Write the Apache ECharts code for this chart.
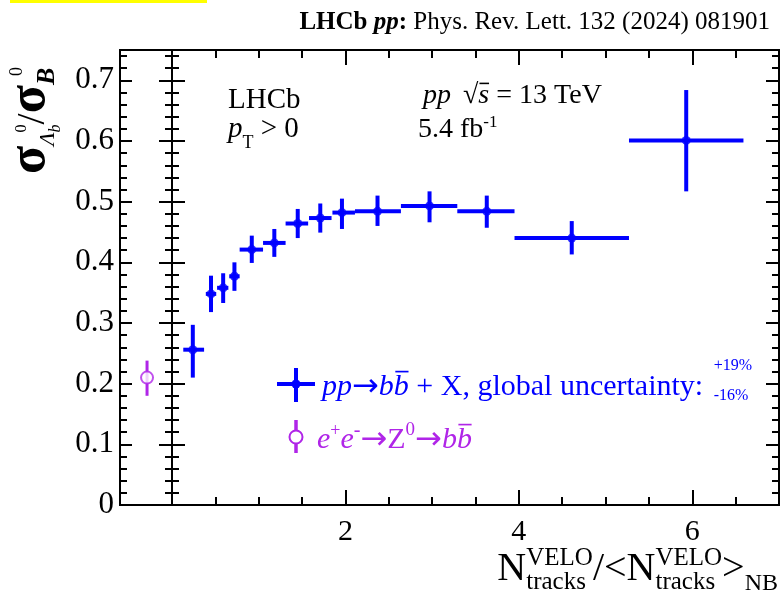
<!DOCTYPE html>
<html>
<head>
<meta charset="utf-8">
<script src="https://cdn.jsdelivr.net/npm/echarts@6/dist/echarts.min.js"></script>
<style>
  html, body { margin: 0; padding: 0; background: #fff; }
  #chart { width: 783px; height: 595px; }
</style>
</head>
<body>
<div id="chart"></div>
<script>
// multiplicity bins, N_tracks / <N_tracks>_NB
const binCentre = [0.24, 0.45, 0.59, 0.72, 0.92, 1.18, 1.45, 1.71, 1.96, 2.37, 2.97, 3.63, 4.61, 5.93];
const binLow    = [0.13, 0.39, 0.52, 0.66, 0.78, 1.05, 1.31, 1.58, 1.85, 2.11, 2.64, 3.29, 3.95, 5.27];
const binHigh   = [0.37, 0.51, 0.65, 0.78, 1.05, 1.31, 1.57, 1.84, 2.11, 2.64, 3.29, 3.95, 5.27, 6.59];

// sigma(Lb0)/sigma(B0) in pp collisions, with total uncertainty
const ppRatio     = [0.256, 0.348, 0.358, 0.377, 0.421, 0.432, 0.464, 0.473, 0.482, 0.484, 0.493, 0.484, 0.440, 0.601];
const ppRatioLow  = [0.210, 0.318, 0.333, 0.353, 0.399, 0.409, 0.440, 0.449, 0.455, 0.460, 0.466, 0.457, 0.413, 0.517];
const ppRatioHigh = [0.297, 0.378, 0.382, 0.400, 0.444, 0.455, 0.488, 0.497, 0.505, 0.510, 0.517, 0.510, 0.468, 0.684];

// e+e- -> Z0 -> bb reference point (side panel)
const eeX = [0.52];
const eeRatio = [0.21];
const eeRatioLow = [0.18];
const eeRatioHigh = [0.238];

const BLACK = '#000';
const BLUE = '#0000ff';
const PURPLE = '#b025e8';
const SERIF = "'Liberation Serif', 'Times New Roman', serif";
const ARROW = { t: '→', family: "'DejaVu Sans', sans-serif", size: 32, dy: 1 };

// --- small text layout helper (super/subscripts, overlines) ---
const mctx = document.createElement('canvas').getContext('2d');
function fontOf(p) {
  return (p.italic ? 'italic ' : '') + (p.bold ? 'bold ' : '') + p.size + 'px ' + (p.family || SERIF);
}
function widthOf(p) {
  mctx.font = fontOf(p);
  return mctx.measureText(p.t).width;
}
function midShift(p) {
  mctx.font = fontOf(p);
  mctx.textBaseline = 'alphabetic';
  const a = mctx.measureText('H').actualBoundingBoxAscent;
  mctx.textBaseline = 'middle';
  const b = mctx.measureText('H').actualBoundingBoxAscent;
  mctx.textBaseline = 'alphabetic';
  return a - b;
}
function runOfText(pieces, base) {
  const children = [];
  let x = 0;
  function put(piece, x0) {
    const p = Object.assign({ color: BLACK }, base, piece);
    const w = widthOf(p);
    const dy = p.dy || 0;
    const xs = x0 + (p.dx || 0);
    children.push({
      type: 'text', x: xs, y: dy - midShift(p), silent: true,
      style: {
        text: p.t, font: fontOf(p), fill: p.color,
        align: 'left', verticalAlign: 'middle', textAlign: 'left', textVerticalAlign: 'middle'
      }
    });
    if (p.over) {
      const yy = dy - p.over * p.size;
      children.push({
        type: 'line', silent: true,
        shape: { x1: xs + w * 0.1, y1: yy, x2: xs + w * 0.98, y2: yy },
        style: { stroke: p.color, lineWidth: Math.max(1.3, p.size / 18) }
      });
    }
    return w + (p.dx || 0);
  }
  for (const piece of pieces) {
    if (piece.gap) { x += piece.gap; continue; }
    if (piece.stack) { x += Math.max(...piece.stack.map(s => put(s, x))); continue; }
    x += put(piece, x);
  }
  return { children, width: x };
}
function textGroup(pieces, base, at) {
  const run = runOfText(pieces, base);
  const shift = at.align === 'right' ? -run.width : 0;
  return {
    type: 'group', x: at.x, y: at.y, rotation: at.rotation || 0, silent: true,
    children: [{ type: 'group', x: shift, y: 0, children: run.children }]
  };
}

// --- axes ---
function axisBase(extra) {
  return Object.assign({
    type: 'value',
    axisLine: { show: true, onZero: false, lineStyle: { color: BLACK, width: 2 } },
    axisTick: { show: false },
    axisLabel: { show: false },
    splitLine: { show: false }
  }, extra);
}
function ticks(len) {
  return { show: true, inside: true, length: len, lineStyle: { color: BLACK, width: 2 } };
}

const sideRect = { left: 120, top: 50, width: 52, height: 455 };
const mainRect = { left: 172, top: 50, width: 607, height: 455 };

function errorBars(color, width) {
  return function (params, api) {
    const xc = api.value(0), yc = api.value(3);
    const pL = api.coord([api.value(1), yc]);
    const pH = api.coord([api.value(2), yc]);
    const pB = api.coord([xc, api.value(4)]);
    const pT = api.coord([xc, api.value(5)]);
    return {
      type: 'group',
      children: [
        { type: 'line', shape: { x1: pL[0], y1: pL[1], x2: pH[0], y2: pH[1] }, style: { stroke: color, lineWidth: width } },
        { type: 'line', shape: { x1: pB[0], y1: pB[1], x2: pT[0], y2: pT[1] }, style: { stroke: color, lineWidth: width } }
      ]
    };
  };
}

const ppRows = binCentre.map((x, i) => [x, binLow[i], binHigh[i], ppRatio[i], ppRatioLow[i], ppRatioHigh[i]]);
const eeRows = eeX.map((x, i) => [x, x, x, eeRatio[i], eeRatioLow[i], eeRatioHigh[i]]);

const yRange = { min: 0, max: 0.75 };

const graphics = [
  { type: 'rect', shape: { x: 10, y: 0, width: 197, height: 3 }, style: { fill: '#ffff00' }, silent: true },
  textGroup([
    { t: 'LHCb ', bold: true }, { t: 'pp', bold: true, italic: true }, { t: ':', bold: true },
    { t: ' Phys. Rev. Lett. 132 (2024) 081901' }
  ], { size: 25 }, { x: 770, y: 29, align: 'right' }),

  textGroup([{ t: 'LHCb' }], { size: 29 }, { x: 228, y: 108 }),
  textGroup([{ t: 'p', italic: true }, { t: 'T', size: 18, dy: 11 }, { t: ' > 0' }], { size: 29 }, { x: 228, y: 137 }),
  textGroup([
    { t: 'pp', italic: true }, { gap: 12 }, { t: '√' }, { t: 's', italic: true, over: 0.7 }, { t: ' = 13 TeV' }
  ], { size: 28 }, { x: 423, y: 103 }),
  textGroup([{ t: '5.4 fb' }, { t: '-1', size: 17, dy: -10 }], { size: 28 }, { x: 418, y: 137 }),

  // legend
  { type: 'line', silent: true, shape: { x1: 277, y1: 384, x2: 315, y2: 384 }, style: { stroke: BLUE, lineWidth: 4 } },
  { type: 'line', silent: true, shape: { x1: 296, y1: 368, x2: 296, y2: 402 }, style: { stroke: BLUE, lineWidth: 4 } },
  { type: 'circle', silent: true, shape: { cx: 296, cy: 384, r: 4.5 }, style: { fill: BLUE } },
  textGroup([
    { t: 'pp', italic: true }, ARROW, { t: 'b', italic: true }, { t: 'b', italic: true, over: 0.78 },
    { t: ' + X, global uncertainty: ' }, { gap: 3 },
    { stack: [{ t: '+19%', size: 16, dy: -25 }, { t: '-16%', size: 16, dy: 5 }] }
  ], { size: 30, color: BLUE }, { x: 322, y: 395 }),
  { type: 'line', silent: true, shape: { x1: 296, y1: 420, x2: 296, y2: 453 }, style: { stroke: PURPLE, lineWidth: 3.5 } },
  { type: 'circle', silent: true, shape: { cx: 296, cy: 437, r: 6.5 }, style: { fill: '#fff', stroke: PURPLE, lineWidth: 2 } },
  textGroup([
    { t: 'e', italic: true }, { t: '+', size: 18, dy: -12 }, { t: 'e', italic: true }, { t: '-', size: 20, dy: -12 },
    ARROW, { t: 'Z' }, { t: '0', size: 19, dy: -13 }, ARROW,
    { t: 'b', italic: true }, { t: 'b', italic: true, over: 0.78 }
  ], { size: 30, color: PURPLE }, { x: 317, y: 448 }),

  // x axis title
  textGroup([
    { t: 'N' }, { stack: [{ t: 'VELO', size: 25, dy: -15 }, { t: 'tracks', size: 25, dy: 9 }] },
    { t: '/<N' }, { stack: [{ t: 'VELO', size: 25, dy: -15 }, { t: 'tracks', size: 25, dy: 9 }] },
    { t: '>' }, { t: 'NB', size: 24, dy: 10 }
  ], { size: 40 }, { x: 778, y: 580, align: 'right' }),

  // y axis title, rotated
  textGroup([
    { t: 'σ', bold: true }, { t: 'Λ', italic: true, size: 22, dy: 10 },
    { stack: [{ t: '0', size: 16, dy: -18 }, { t: 'b', italic: true, size: 16, dy: 16 }] },
    { t: '/', size: 40 }, { t: 'σ', bold: true },
    { stack: [{ t: '0', size: 18, dy: -22, dx: 9 }, { t: 'B', italic: true, bold: true, size: 26, dy: 10 }] }
  ], { size: 52 }, { x: 44, y: 174, rotation: Math.PI / 2 })
];

const chart = echarts.init(document.getElementById('chart'), null, { renderer: 'canvas' });

const option = {
  animation: false,
  backgroundColor: '#fff',
  grid: [
    Object.assign({}, sideRect),
    Object.assign({}, sideRect),
    Object.assign({}, mainRect),
    Object.assign({}, mainRect)
  ],
  xAxis: [
    axisBase({ gridIndex: 0, min: 0, max: 1, position: 'bottom' }),
    axisBase({ gridIndex: 0, min: 0, max: 1, position: 'top' }),
    axisBase({ gridIndex: 1, min: 0, max: 1, show: false }),
    axisBase({ gridIndex: 2, min: 0, max: 7, interval: 0.5, position: 'bottom', axisTick: ticks(8) }),
    axisBase({ gridIndex: 2, min: 0, max: 7, interval: 0.5, position: 'top', axisTick: ticks(8) }),
    axisBase({
      gridIndex: 3, min: 0, max: 7, interval: 2, position: 'bottom', axisTick: ticks(15),
      axisLabel: {
        show: true, fontSize: 30, fontFamily: SERIF, color: BLACK, margin: 12,
        showMinLabel: false, showMaxLabel: false
      }
    }),
    axisBase({ gridIndex: 3, min: 0, max: 7, interval: 2, position: 'top', axisTick: ticks(15) })
  ],
  yAxis: [
    axisBase(Object.assign({ gridIndex: 0, interval: 0.02, position: 'left', axisTick: ticks(7) }, yRange)),
    axisBase(Object.assign({ gridIndex: 0, interval: 0.02, position: 'right', axisTick: ticks(7) }, yRange)),
    axisBase(Object.assign({
      gridIndex: 1, interval: 0.1, position: 'left', axisTick: ticks(12),
      axisLabel: {
        show: true, fontSize: 31, fontFamily: SERIF, color: BLACK, margin: 6, showMaxLabel: false,
        formatter: v => (v === 0 ? '0' : v.toFixed(1))
      }
    }, yRange)),
    axisBase(Object.assign({ gridIndex: 1, interval: 0.1, position: 'right', axisTick: ticks(13) }, yRange)),
    axisBase(Object.assign({ gridIndex: 2, interval: 0.02, position: 'left', axisTick: ticks(7) }, yRange)),
    axisBase(Object.assign({ gridIndex: 2, interval: 0.02, position: 'right', axisTick: ticks(7) }, yRange)),
    axisBase(Object.assign({ gridIndex: 3, interval: 0.1, position: 'left', axisTick: ticks(13) }, yRange)),
    axisBase(Object.assign({ gridIndex: 3, interval: 0.1, position: 'right', axisTick: ticks(13) }, yRange))
  ],
  series: [
    {
      name: 'pp errors', type: 'custom', xAxisIndex: 5, yAxisIndex: 6,
      renderItem: errorBars(BLUE, 4), data: ppRows,
      encode: { x: [0, 1, 2], y: [3, 4, 5] }, z: 3, silent: true
    },
    {
      name: 'pp -> bb + X', type: 'scatter', xAxisIndex: 5, yAxisIndex: 6,
      data: binCentre.map((x, i) => [x, ppRatio[i]]),
      symbol: 'circle', symbolSize: 9, itemStyle: { color: BLUE }, z: 4, silent: true
    },
    {
      name: 'ee errors', type: 'custom', xAxisIndex: 2, yAxisIndex: 2,
      renderItem: errorBars(PURPLE, 3), data: eeRows,
      encode: { x: [0, 1, 2], y: [3, 4, 5] }, z: 3, silent: true
    },
    {
      name: 'e+e- -> Z0 -> bb', type: 'scatter', xAxisIndex: 2, yAxisIndex: 2,
      data: eeX.map((x, i) => [x, eeRatio[i]]),
      symbol: 'circle', symbolSize: 12,
      itemStyle: { color: '#fff', borderColor: PURPLE, borderWidth: 2 }, z: 4, silent: true
    }
  ],
  graphic: graphics
};

chart.setOption(option);
</script>
</body>
</html>
